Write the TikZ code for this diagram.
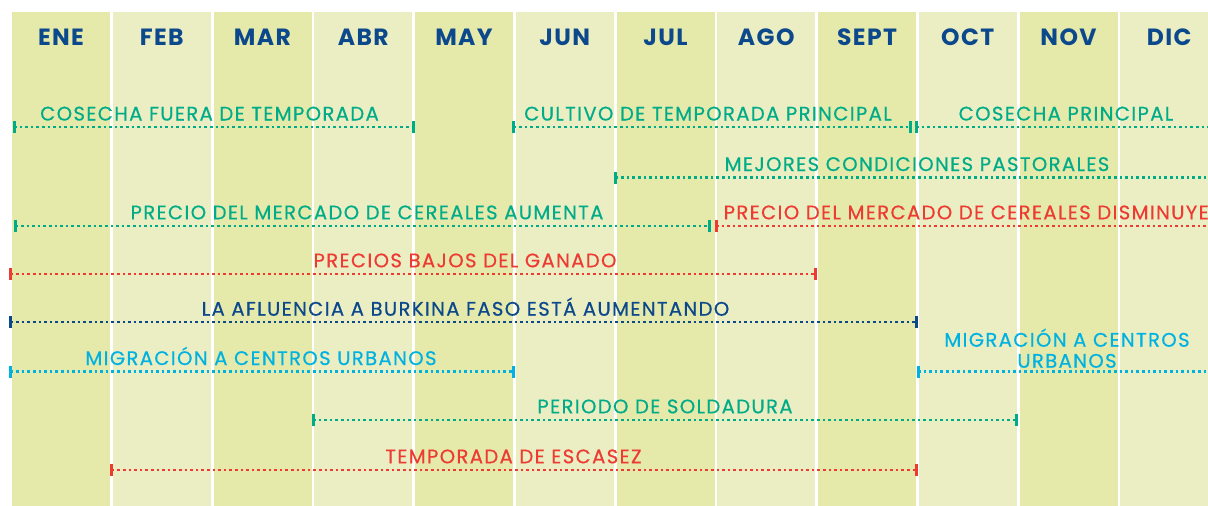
\documentclass[tikz,border=0pt]{standalone}
\usepackage{fontspec}
\setmainfont{Poppins}
\newfontfamily\labfont{Poppins}[LetterSpace=7,FakeBold=0.5]
\newfontfamily\hdrfont{Poppins}[LetterSpace=6]
\definecolor{coldark}{RGB}{229,233,170}
\definecolor{collight}{RGB}{235,238,194}
\definecolor{cgreen}{RGB}{0,172,136}
\definecolor{cred}{RGB}{237,59,51}
\definecolor{ccyan}{RGB}{0,178,226}
\definecolor{cnavy}{RGB}{12,72,140}
\tikzset{
  lab/.style={anchor=base, inner sep=0pt, font=\labfont\fontsize{19.6}{21}\selectfont},
  hdr/.style={anchor=base, inner sep=0pt, text=cnavy, font=\hdrfont\fontsize{23.5}{25}\selectfont\bfseries},
  dotline/.style={line width=2.6pt, dash pattern=on 2.6pt off 3pt},
  tickmark/.style={line width=3pt},
}
\newcommand\tk[2]{\draw[tickmark,#1] ([yshift=6pt]#2) -- ([yshift=-6pt]#2);}
\begin{document}
\begin{tikzpicture}[x=1pt,y=-1pt]
\path[use as bounding box] (0,0) rectangle (1208,506);
\clip (0,0) rectangle (1208,506);
% columns
\foreach \m [count=\i from 0] in {ENE,FEB,MAR,ABR,MAY,JUN,JUL,AGO,SEPT,OCT,NOV,DIC}{
  \pgfmathsetmacro\xa{12+\i*100.75}
  \pgfmathsetmacro\xb{\xa+98.2}
  \pgfmathsetmacro\xc{\xa+49}
  \pgfmathtruncatemacro\parity{mod(\i,2)}
  \ifnum\parity=0 \fill[coldark] (\xa,12) rectangle (\xb,506);
  \else \fill[collight] (\xa,12) rectangle (\xb,506); \fi
  \node[hdr] (h\i) at (\xc,45.7) {\m};
}
% line endpoints
\coordinate (a1) at (14,127);   \coordinate (b1) at (413,127);
\coordinate (a2) at (513.5,127); \coordinate (b2) at (910,127);
\coordinate (a3) at (916,127);  \coordinate (b3) at (1212,127);
\coordinate (a4) at (615.5,177.7); \coordinate (b4) at (1212,177.7);
\coordinate (a5) at (15.3,226); \coordinate (b5) at (709,226);
\coordinate (a6) at (716,226);  \coordinate (b6) at (1212,226);
\coordinate (a7) at (10.5,274); \coordinate (b7) at (815.5,274);
\coordinate (a8) at (10.5,322); \coordinate (b8) at (916,322);
\coordinate (a9) at (10.5,371.5); \coordinate (b9) at (513,371.5);
\coordinate (a10) at (918,371.5); \coordinate (b10) at (1212,371.5);
\coordinate (a11) at (313,420); \coordinate (b11) at (1016.7,420);
\coordinate (a12) at (111.7,470); \coordinate (b12) at (916,470);
% lines
\draw[dotline,cgreen] (a1) -- (b1); \tk{cgreen}{a1}\tk{cgreen}{b1}
\draw[dotline,cgreen] (a2) -- (b2); \tk{cgreen}{a2}\tk{cgreen}{b2}
\draw[dotline,cgreen] (a3) -- (b3); \tk{cgreen}{a3}
\draw[dotline,cgreen] (a4) -- (b4); \tk{cgreen}{a4}
\draw[dotline,cgreen] (a5) -- (b5); \tk{cgreen}{a5}\tk{cgreen}{b5}
\draw[dotline,cred] (a6) -- (b6); \tk{cred}{a6}
\draw[dotline,cred] (a7) -- (b7); \tk{cred}{a7}\tk{cred}{b7}
\draw[dotline,cnavy] (a8) -- (b8); \tk{cnavy}{a8}\tk{cnavy}{b8}
\draw[dotline,ccyan] (a9) -- (b9); \tk{ccyan}{a9}\tk{ccyan}{b9}
\draw[dotline,ccyan] (a10) -- (b10); \tk{ccyan}{a10}
\draw[dotline,cgreen] (a11) -- (b11); \tk{cgreen}{a11}\tk{cgreen}{b11}
\draw[dotline,cred] (a12) -- (b12); \tk{cred}{a12}\tk{cred}{b12}
% labels
\node[lab,text=cgreen] (t1) at (209.5,120.5) {COSECHA FUERA DE TEMPORADA};
\node[lab,text=cgreen] (t2) at (708,120.5) {CULTIVO DE TEMPORADA PRINCIPAL};
\node[lab,text=cgreen] (t3) at (1066,120.5) {COSECHA PRINCIPAL};
\node[lab,text=cgreen] (t4) at (917,171) {MEJORES CONDICIONES PASTORALES};
\node[lab,text=cgreen] (t5) at (367,219.3) {PRECIO DEL MERCADO DE CEREALES AUMENTA};
\node[lab,text=cred,anchor=base west] (t6) at (723.5,219.3) {PRECIO DEL MERCADO DE CEREALES DISMINUYE};
\node[lab,text=cred] (t7) at (465,267.3) {PRECIOS BAJOS DEL GANADO};
\node[lab,text=cnavy] (t8) at (465.5,315.7) {LA AFLUENCIA A BURKINA FASO ESTÁ AUMENTANDO};
\node[lab,text=ccyan] (t9) at (261,365) {MIGRACIÓN A CENTROS URBANOS};
\node[lab,text=ccyan] (t10a) at (1067,346.7) {MIGRACIÓN A CENTROS};
\node[lab,text=ccyan] (t10b) at (1067,367.7) {URBANOS};
\node[lab,text=cgreen] (t11) at (665,413.3) {PERIODO DE SOLDADURA};
\node[lab,text=cred] (t12) at (513.5,463.3) {TEMPORADA DE ESCASEZ};
\end{tikzpicture}
\end{document}
